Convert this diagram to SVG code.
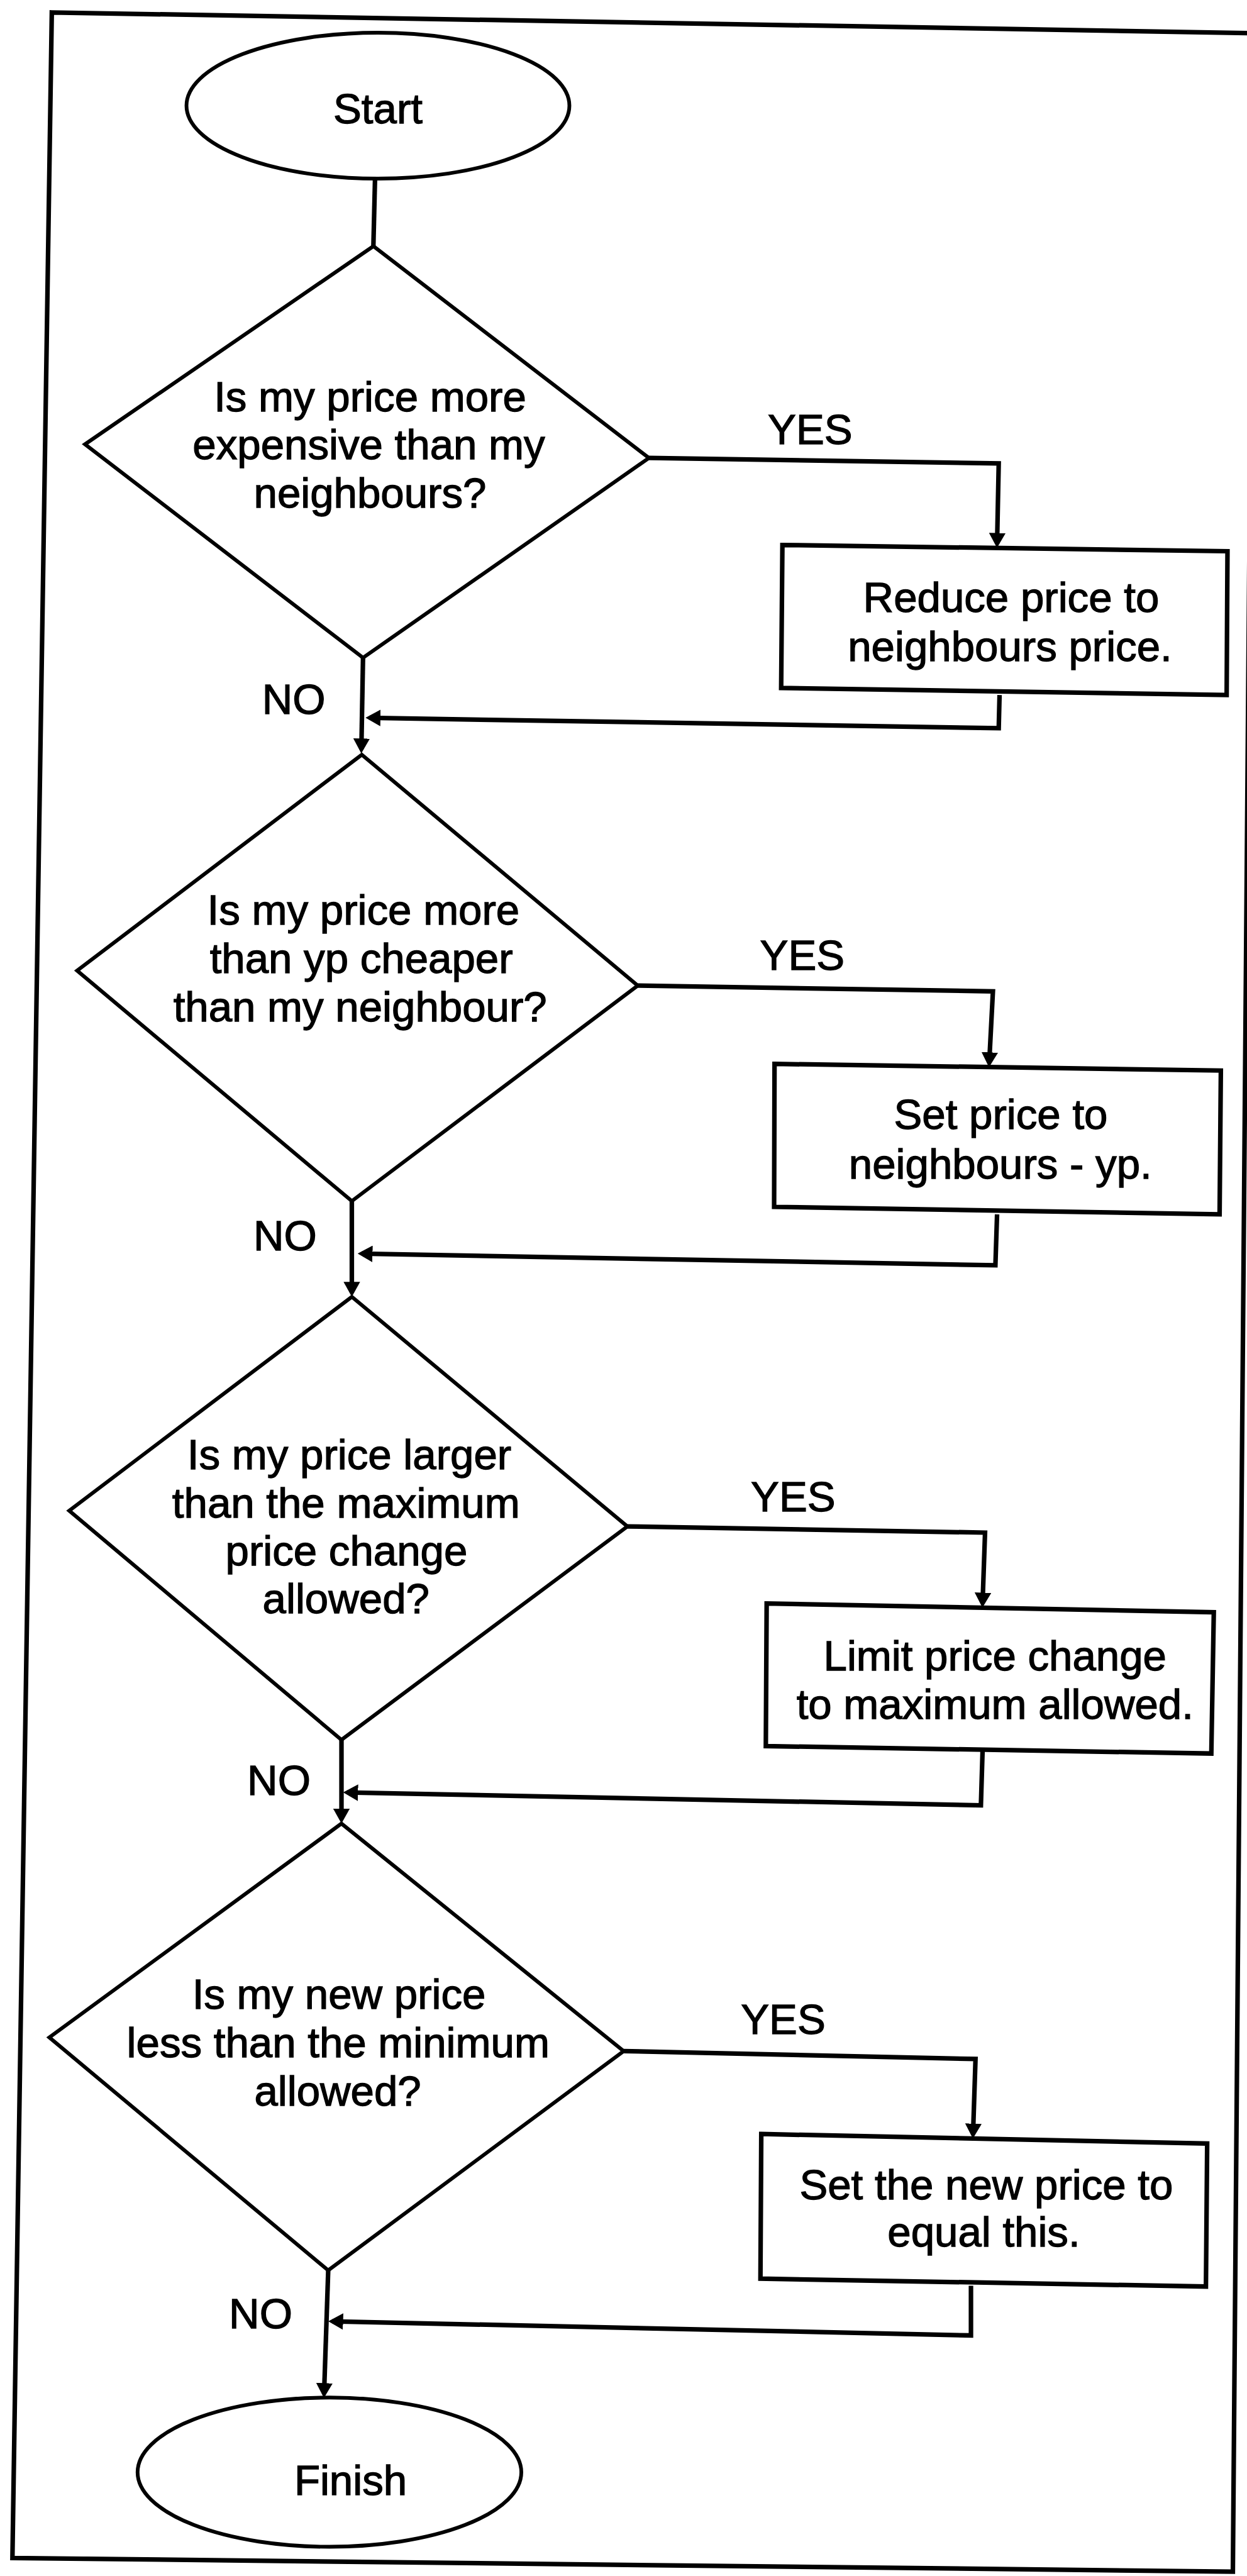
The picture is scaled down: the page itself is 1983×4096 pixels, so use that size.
<svg xmlns="http://www.w3.org/2000/svg" width="1983" height="4096" viewBox="0 0 1983 4096">
<style>
.bg{fill:#fff}
.frame{fill:none;stroke:#000;stroke-width:11;stroke-linejoin:miter}
.shape{fill:none;stroke:#000;stroke-width:9;stroke-linejoin:miter}
.box{fill:none;stroke:#000;stroke-width:11;stroke-linejoin:miter}
.conn{fill:none;stroke:#000;stroke-width:11;stroke-linejoin:miter}
.arrow{marker-end:url(#ah)}
text{font-family:"Liberation Sans",Arial,Helvetica,sans-serif;font-size:102px;fill:#000;stroke:#000;stroke-width:2;text-anchor:middle}
</style>
<defs>
<marker id="ah" viewBox="0 0 36 40" markerWidth="36" markerHeight="40" refX="26" refY="20" orient="auto" markerUnits="userSpaceOnUse">
<polygon points="0,0 36,20 0,40" fill="#000"/>
</marker>
</defs>
<rect class="bg" x="0" y="0" width="1983" height="4096"/>
<g transform="scale(0.659)">
<polygon id="frame" class="frame" points="125,30 3025,80 2975,6205 30,6172"/>

<g id="connectors">
<path class="conn" d="M905,430 L901,594"/>
<path class="conn arrow" d="M1566,1105 L2410,1118 L2406,1312"/>
<path class="conn arrow" d="M2412,1677 L2410,1757 L892,1732"/>
<path class="conn arrow" d="M876,1587 L872,1808"/>
<path class="conn arrow" d="M1539,2378 L2396,2392 L2387,2565"/>
<path class="conn arrow" d="M2406,2930 L2402,3053 L873,3025"/>
<path class="conn arrow" d="M849,2898 L849,3119"/>
<path class="conn arrow" d="M1514,3683 L2377,3698 L2371,3869"/>
<path class="conn arrow" d="M2371,4225 L2367,4356 L838,4325"/>
<path class="conn arrow" d="M824,4198 L824,4390"/>
<path class="conn arrow" d="M1505,4949 L2354,4968 L2348,5150"/>
<path class="conn arrow" d="M2343,5515 L2343,5635 L802,5601"/>
<path class="conn arrow" d="M792,5478 L782,5776"/>
<text x="1955" y="1072">YES</text>
<text x="709" y="1723">NO</text>
<text x="1936" y="2340">YES</text>
<text x="688" y="3017">NO</text>
<text x="1914" y="3647">YES</text>
<text x="673" y="4331">NO</text>
<text x="1890" y="4908">YES</text>
<text x="629" y="5617">NO</text>
</g>

<g id="start">
<ellipse class="shape" cx="912" cy="255" rx="462" ry="176"/>
<text x="912" y="297">Start</text>
</g>

<g id="decision1">
<polygon class="shape" points="901,594 1566,1105 876,1587 205,1072"/>
<text x="893" y="992">Is my price more</text>
<text x="890" y="1108">expensive than my</text>
<text x="893" y="1225">neighbours?</text>
</g>

<g id="action1">
<polygon class="box" points="1888,1315 2962,1330 2960,1677 1885,1660"/>
<text x="2440" y="1477">Reduce price to</text>
<text x="2437" y="1595">neighbours price.</text>
</g>

<g id="decision2">
<polygon class="shape" points="873,1821 1539,2378 849,2898 186,2342"/>
<text x="877" y="2231">Is my price more</text>
<text x="872" y="2348">than yp cheaper</text>
<text x="869" y="2465">than my neighbour?</text>
</g>

<g id="action2">
<polygon class="box" points="1869,2567 2946,2583 2943,2930 1868,2912"/>
<text x="2415" y="2724">Set price to</text>
<text x="2414" y="2844">neighbours - yp.</text>
</g>

<g id="decision3">
<polygon class="shape" points="849,3129 1514,3683 824,4198 167,3645"/>
<text x="843" y="3545">Is my price larger</text>
<text x="835" y="3661">than the maximum</text>
<text x="836" y="3777">price change</text>
<text x="835" y="3893">allowed?</text>
</g>

<g id="action3">
<polygon class="box" points="1850,3869 2929,3890 2923,4231 1848,4213"/>
<text x="2401" y="4030">Limit price change</text>
<text x="2401" y="4147">to maximum allowed.</text>
</g>

<g id="decision4">
<polygon class="shape" points="824,4400 1505,4949 792,5478 119,4916"/>
<text x="818" y="4847">Is my new price</text>
<text x="816" y="4964">less than the minimum</text>
<text x="815" y="5081">allowed?</text>
</g>

<g id="action4">
<polygon class="box" points="1837,5149 2913,5172 2910,5517 1835,5498"/>
<text x="2380" y="5306">Set the new price to</text>
<text x="2374" y="5421">equal this.</text>
</g>

<g id="finish">
<ellipse class="shape" cx="795" cy="5965" rx="463" ry="180"/>
<text x="846" y="6020">Finish</text>
</g>
</g>
</svg>
